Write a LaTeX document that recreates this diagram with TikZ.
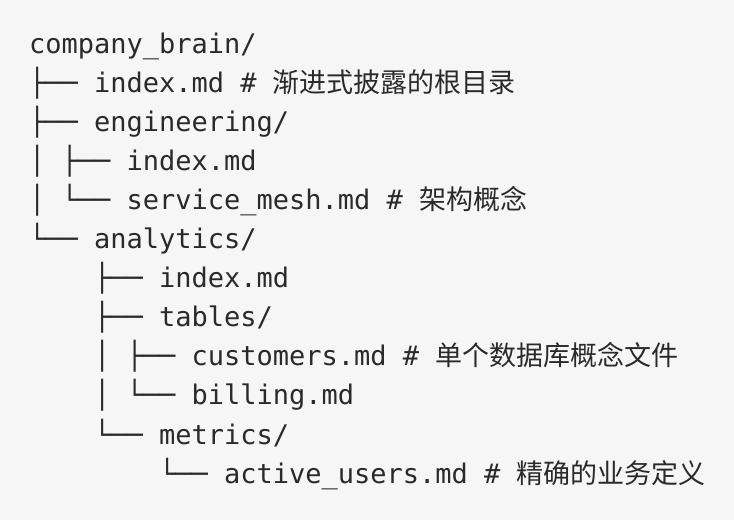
\documentclass[tikz,border=0pt]{standalone}
\usepackage{fontspec}
\setmainfont{DejaVu Sans Mono}
\newfontfamily\cjk{Noto Sans CJK SC}
\definecolor{bgc}{HTML}{F6F6F6}
\definecolor{txt}{HTML}{2A2A2A}
\begin{document}
\begin{tikzpicture}[x=1pt,y=1pt,
  ln/.style={anchor=base west,inner sep=0pt,outer sep=0pt,text=txt,font=\fontsize{27}{32}\selectfont}]
\fill[bgc] (0,0) rectangle (734,-520);
\useasboundingbox (0,0) rectangle (734,-520);
\def\x{29}
\node[ln] (l1)  at (\x,-53.0)  {company\_brain/};
\node[ln] (l2)  at (\x,-92.1)  {├──\ index.md\ \#\ {\cjk 渐进式披露的根目录}};
\node[ln] (l3)  at (\x,-131.2) {├──\ engineering/};
\node[ln] (l4)  at (\x,-170.3) {│\ ├──\ index.md};
\node[ln] (l5)  at (\x,-209.4) {│\ └──\ service\_mesh.md\ \#\ {\cjk 架构概念}};
\node[ln] (l6)  at (\x,-248.5) {└──\ analytics/};
\node[ln] (l7)  at (\x,-287.6) {\ \ \ \ ├──\ index.md};
\node[ln] (l8)  at (\x,-326.7) {\ \ \ \ ├──\ tables/};
\node[ln] (l9)  at (\x,-365.8) {\ \ \ \ │\ ├──\ customers.md\ \#\ {\cjk 单个数据库概念文件}};
\node[ln] (l10) at (\x,-404.9) {\ \ \ \ │\ └──\ billing.md};
\node[ln] (l11) at (\x,-444.0) {\ \ \ \ └──\ metrics/};
\node[ln] (l12) at (\x,-483.1) {\ \ \ \ \ \ \ \ └──\ active\_users.md\ \#\ {\cjk 精确的业务定义}};
\end{tikzpicture}
\end{document}
